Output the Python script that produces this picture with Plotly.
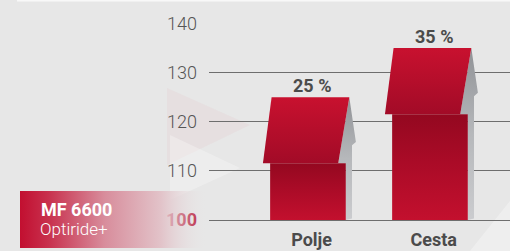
import plotly.graph_objects as go

# ---- data ----
categories = ["Polje", "Cesta"]
values = [125, 135]
value_labels = ["25 %", "35 %"]
y_ticks = [100, 110, 120, 130, 140]
y_tick_text = ["<span style='color:#b50a2c'><b>100</b></span>", "110", "120", "130", "140"]
box_title = "MF 6600"
box_subtitle = "Optiride+"
base_value = 100

# ---- geometry (arrow shape, in axis units) ----
W, H = 510, 251
X0_PX, Y_BOT_PX, Y_TOP_PX = 209, 220, 23.5
HEAD_H = 13.46
SH = 0.31            # shaft half width
positions = list(range(len(categories)))
BOLD_FONT = "Roboto"

fig = go.Figure()

for c, v in zip(positions, values):
    hb = v - HEAD_H
    # gray side face
    fig.add_trace(go.Scatter(
        x=[c + 0.339, c + 0.393, c + 0.361, c + 0.361, c + 0.309, c + 0.309, c + 0.248, c + 0.339],
        y=[v, v - 9.1, v - 9.8, base_value + 0.3, base_value, hb, hb, v],
        mode="lines", line=dict(width=0), fill="toself",
        fillgradient=dict(type="vertical", colorscale=[[0, "#cbcccf"], [0.5, "#b6b8bb"], [1, "#909296"]]),
        hoverinfo="skip", showlegend=False))
    # shaft front face
    fig.add_trace(go.Scatter(
        x=[c - SH, c + SH, c + SH, c - SH, c - SH],
        y=[base_value, base_value, hb, hb, base_value],
        mode="lines", line=dict(width=0), fill="toself",
        fillgradient=dict(type="vertical", colorscale=[[0, "#c3102e"], [0.55, "#aa0b27"], [1, "#940820"]]),
        hoverinfo="skip", showlegend=False))
    # head front face
    fig.add_trace(go.Scatter(
        x=[c - 0.298, c + 0.339, c + 0.248, c - 0.369, c - 0.298],
        y=[v, v, hb, hb, v],
        mode="lines", line=dict(width=0), fill="toself",
        fillgradient=dict(type="vertical", colorscale=[[0, "#a20b27"], [1, "#c8112f"]]),
        hoverinfo="skip", showlegend=False))

# value labels
for c, v, t in zip(positions, values, value_labels):
    fig.add_annotation(x=c + 0.03, y=v, text="<b>" + t + "</b>", showarrow=False,
                       yanchor="bottom", xanchor="center", yshift=-1,
                       font=dict(family=BOLD_FONT, size=18, color="#4b4b4b"))

# left label box with horizontal gradient (overlay axes spanning the full page, pixel units)
fig.add_trace(go.Scatter(
    x=[20, 208, 208, 20, 20], y=[191, 191, 248, 248, 191],
    xaxis="x2", yaxis="y2", mode="lines", line=dict(width=0), fill="toself",
    fillgradient=dict(type="horizontal",
                      colorscale=[[0, "#c20f30"], [0.15, "#c8304d"], [0.45, "#d88d9c"],
                                  [0.75, "#e2c3c9"], [1, "rgba(232,232,232,0)"]]),
    hoverinfo="skip", showlegend=False))

fig.add_annotation(xref="paper", yref="paper", x=39 / W, y=(H - 209.5) / H, text="<b>" + box_title + "</b>",
                   showarrow=False, xanchor="left", yanchor="middle",
                   font=dict(family=BOLD_FONT, size=18, color="#ffffff"))
fig.add_annotation(xref="paper", yref="paper", x=38 / W, y=(H - 229) / H, text=box_subtitle,
                   showarrow=False, xanchor="left", yanchor="middle",
                   font=dict(family="Roboto", weight=300, size=17, color="#ffffff"))

# faint decorative background triangles
shapes = [
    dict(type="path", xref="paper", yref="paper", layer="below",
         path="M %f %f L %f %f L %f %f Z" % (167 / W, (H - 88) / H, 167 / W, (H - 165) / H, 250 / W, (H - 125) / H),
         fillcolor="rgba(225,160,170,0.10)", line=dict(width=0)),
    dict(type="path", xref="paper", yref="paper", layer="below",
         path="M %f %f L %f %f L %f %f Z" % (170 / W, (H - 135) / H, 170 / W, (H - 200) / H, 240 / W, (H - 168) / H),
         fillcolor="rgba(255,255,255,0.28)", line=dict(width=0)),
    dict(type="path", xref="paper", yref="paper", layer="below",
         path="M %f %f L %f %f L %f %f Z" % (470 / W, 0, 1, 50 / H, 1, 0),
         fillcolor="rgba(255,255,255,0.30)", line=dict(width=0)),
    dict(type="rect", xref="paper", yref="paper", layer="below",
         x0=17 / W, x1=1, y0=(H - 1.5) / H, y1=1, fillcolor="rgba(250,250,250,0.9)", line=dict(width=0)),
]

fig.update_layout(
    width=W, height=H,
    margin=dict(l=0, r=0, t=0, b=0),
    template="none",
    paper_bgcolor="#e7e7e7",
    plot_bgcolor="rgba(0,0,0,0)",
    showlegend=False,
    shapes=shapes,
    xaxis=dict(domain=[X0_PX / W, 1], range=[-0.811, 1.656],
               tickvals=[p + 0.03 for p in positions],
               ticktext=["<b>" + c + "</b>" for c in categories],
               tickfont=dict(family=BOLD_FONT, size=18, color="#4b4b4b"),
               showgrid=False, zeroline=False, showline=True, linecolor="#6e6e6e", linewidth=1.3,
               ticks="", ticklabelstandoff=3, automargin=False, fixedrange=True),
    yaxis=dict(domain=[(H - Y_BOT_PX) / H, (H - Y_TOP_PX) / H], range=[100, 140],
               tickvals=y_ticks, ticktext=y_tick_text,
               tickfont=dict(family="Roboto", weight=300, size=18, color="#555555"),
               showgrid=True, gridcolor="#6e6e6e", gridwidth=1.3,
               zeroline=False, showline=False, ticks="", ticklabelstandoff=11,
               automargin=False, fixedrange=True),
    xaxis2=dict(domain=[0, 1], range=[0, W], visible=False, fixedrange=True),
    yaxis2=dict(domain=[0, 1], range=[H, 0], visible=False, fixedrange=True),
)

fig.write_html("out.html", config={"displayModeBar": False},
               post_script="document.body.style.margin='0px';document.body.style.background='#e7e7e7';")
